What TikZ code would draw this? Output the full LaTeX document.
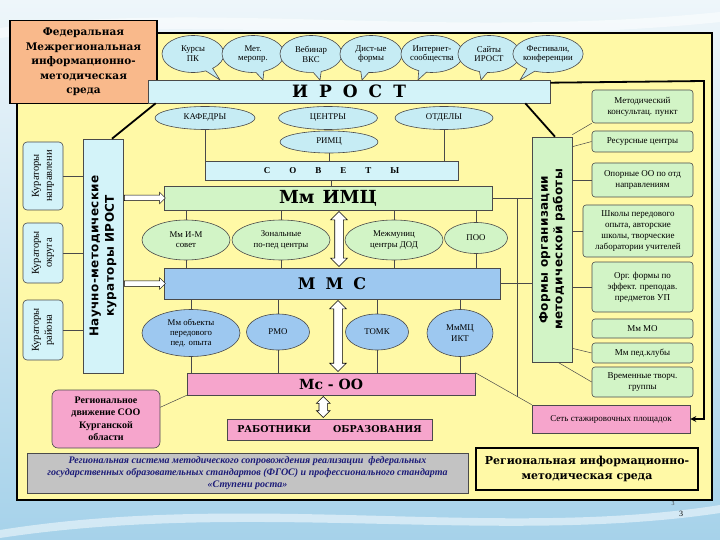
\documentclass[tikz,border=0pt]{standalone}
\usepackage{fontspec}
\setmainfont{Liberation Serif}
\newfontfamily\heavyfont{DejaVu Serif}
\newfontfamily\vertfont{DejaVu Sans}[LetterSpace=3]
\usetikzlibrary{arrows.meta,positioning,calc,shapes.geometric,shapes.callouts,shapes.arrows}
\definecolor{slidebgtop}{HTML}{EEF6FA}
\definecolor{slidebgbot}{HTML}{A6D2EA}
\definecolor{panelyellow}{HTML}{FFF9A6}
\definecolor{fedorange}{HTML}{F9B98B}
\definecolor{irostcyan}{HTML}{D3F3F9}
\definecolor{bubblecyan}{HTML}{C6ECF4}
\definecolor{imcgreen}{HTML}{D2F4C6}
\definecolor{mmsblue}{HTML}{9DC8F0}
\definecolor{oopink}{HTML}{F6A5CC}
\definecolor{framegrey}{HTML}{C3C3C3}
\definecolor{navytext}{HTML}{1C1C78}
\definecolor{edgegrey}{HTML}{4A4A4A}
\tikzset{
  bar/.style={draw=edgegrey, line width=0.6pt, inner sep=0pt, align=center},
  bubble/.style={ellipse callout, draw=edgegrey, fill=bubblecyan, line width=0.6pt, inner sep=0pt, minimum width=62, minimum height=37, align=center, font=\fontsize{8.8}{9.8}\selectfont},
  oval/.style={ellipse, draw=edgegrey, line width=0.6pt, inner sep=0pt, align=center, font=\fontsize{8.8}{10.3}\selectfont},
  kurbox/.style={draw=edgegrey, fill=irostcyan, rounded corners=4pt, line width=0.6pt, minimum width=40, inner sep=0pt},
  formbox/.style={draw=edgegrey, fill=imcgreen, rounded corners=3pt, line width=0.6pt, inner sep=0pt, align=center, font=\fontsize{9}{11}\selectfont},
  link/.style={draw=edgegrey, line width=0.5pt},
  boldlink/.style={draw=black, line width=1.8pt},
  twoway/.style={double arrow, draw=black, fill=white, line width=0.6pt, inner sep=4pt, double arrow head extend=4pt, rotate=90},
  oneway/.style={single arrow, draw=black, fill=white, line width=0.5pt, inner sep=2.5pt, single arrow head extend=3pt},
  heavy/.style={font=\heavyfont\bfseries\fontsize{#1}{#1}\selectfont}
}

\begin{document}
\begin{tikzpicture}[x=1pt,y=-1pt]
  \useasboundingbox (0,0) rectangle (720,540);
  \shade[top color=slidebgtop, bottom color=slidebgbot] (0,0) rectangle (720,540);
  \fill[white, opacity=0.5] (0,28) .. controls (200,0) and (450,40) .. (720,12) -- (720,22) .. controls (450,50) and (200,14) .. (0,38) -- cycle;
  \fill[white, opacity=0.5] (0,530) .. controls (250,490) and (500,540) .. (720,505) -- (720,513) .. controls (500,546) and (250,500) .. (0,538) -- cycle;
  \draw[line width=1.6pt, fill=panelyellow] (17,33) rectangle (712,500);

  \node[draw=black, line width=1.2pt, fill=fedorange, minimum width=147, minimum height=83, inner sep=0pt, align=center,
        font=\heavyfont\bfseries\fontsize{10.5}{14.5}\selectfont] (fed) at (83.5,62)
        {Федеральная\\Межрегиональная\\информационно-\\методическая\\среда};

  % bubbles over IROST
  \node[bubble, callout absolute pointer={(220,80)}] (kpk) at (193,54) {Курсы\\ПК};
  \node[bubble, callout absolute pointer={(263,80)}] (met) at (253,54) {Мет.\\меропр.};
  \node[bubble, callout absolute pointer={(320,80)}] (veb) at (311,54) {Вебинар\\ВКС};
  \node[bubble, callout absolute pointer={(362,80)}] (dist) at (371,54) {Дист-ые\\формы};
  \node[bubble, callout absolute pointer={(418,80)}] (inet) at (432,54) {Интернет-\\сообщества};
  \node[bubble, callout absolute pointer={(481,80)}] (sait) at (489,54) {Сайты\\ИРОСТ};
  \node[bubble, callout absolute pointer={(520,80)}] (fest) at (548,54) {Фестивали,\\конференции};

  \node[bar, fill=irostcyan, minimum width=402, minimum height=23, heavy=17] (irost) at (349,91.5)
        {И\hspace{11pt}Р\hspace{11pt}О\hspace{11pt}С\hspace{11pt}Т};

  \node[oval, fill=bubblecyan, minimum width=100, minimum height=23] (kaf) at (205,118) {КАФЕДРЫ};
  \node[oval, fill=bubblecyan, minimum width=99, minimum height=23] (cen) at (328,118) {ЦЕНТРЫ};
  \node[oval, fill=bubblecyan, minimum width=98, minimum height=23] (otd) at (444,118) {ОТДЕЛЫ};
  \node[oval, fill=bubblecyan, minimum width=98, minimum height=22] (rimc) at (329,142) {РИМЦ};

  \node[bar, fill=irostcyan, minimum width=253, minimum height=19, font=\bfseries\fontsize{9}{9}\selectfont] (sov) at (331.5,170.5)
        {С\hspace{19pt}О\hspace{19pt}В\hspace{19pt}Е\hspace{19pt}Т\hspace{19pt}Ы};
  \node[bar, fill=imcgreen, minimum width=328, minimum height=24, heavy=18] (mmimc) at (328,198) {Мм\hspace{8pt}ИМЦ};

  \node[oval, fill=imcgreen, minimum width=88, minimum height=40] (imsov) at (186,240) {Мм И-М\\совет};
  \node[oval, fill=imcgreen, minimum width=98, minimum height=40] (zon) at (281,240) {Зональные\\по-пед центры};
  \node[oval, fill=imcgreen, minimum width=98, minimum height=40] (mezh) at (394,240) {Межмуниц\\центры ДОД};
  \node[oval, fill=imcgreen, minimum width=63, minimum height=31] (poo) at (476,238) {ПОО};

  \node[bar, fill=mmsblue, minimum width=336, minimum height=31, heavy=16] (mms) at (332,283.5) {М\hspace{10pt}М\hspace{10pt}С};

  \node[oval, fill=mmsblue, minimum width=98, minimum height=47] (obj) at (191,333) {Мм объекты\\передового\\пед. опыта};
  \node[oval, fill=mmsblue, minimum width=63, minimum height=36] (rmo) at (278,332) {РМО};
  \node[oval, fill=mmsblue, minimum width=63, minimum height=36] (tomk) at (377,332) {ТОМК};
  \node[oval, fill=mmsblue, minimum width=66, minimum height=47] (ikt) at (460,333) {МмМЦ\\ИКТ};

  \node[bar, fill=oopink, minimum width=288, minimum height=22, heavy=14] (mcoo) at (331,384) {Мс - ОО};
  \node[bar, fill=oopink, minimum width=205, minimum height=21, heavy=9.5] (rab) at (329.5,429.5) {РАБОТНИКИ\hspace{22pt}ОБРАЗОВАНИЯ};

  \node[twoway, minimum height=55] (imcmms) at ($(mmimc.south)!0.5!(mms.north)+(9,0)$) {};
  \node[twoway, minimum height=71] (mmsoo) at ($(mms.south)!0.5!(mcoo.north)+(6.5,0)$) {};
  \node[twoway, minimum height=21, double arrow head extend=2.5pt] (oorab) at ($(mcoo.south)!0.5!(rab.north)+(-7,0)$) {};

  % curators
  \node[bar, fill=irostcyan, minimum width=40, minimum height=234] (naucno) at (103,256) {};
  \node[rotate=90, align=center, font=\vertfont\bfseries\fontsize{12}{15.5}\selectfont] (naucnot) at (naucno.center) {Научно-методические\\кураторы ИРОСТ};
  \node[kurbox, minimum height=68] (kn) at (43,176) {};
  \node[kurbox, minimum height=60] (ko) at (43,253) {};
  \node[kurbox, minimum height=60] (kr) at (43,330) {};
  \node[rotate=90, align=center, font=\fontsize{10.5}{13}\selectfont] (knt) at (kn.center) {Кураторы\\направлени};
  \node[rotate=90, align=center, font=\fontsize{10.5}{13}\selectfont] (kot) at (ko.center) {Кураторы\\округа};
  \node[rotate=90, align=center, font=\fontsize{10.5}{13}\selectfont] (krt) at (kr.center) {Кураторы\\района};
  \foreach \k in {kn,ko,kr} \draw[link] (\k.east) -- (\k.east -| naucno.west);
  \node[oneway, minimum height=41] (toimc) at ($(naucno.east |- mmimc.west)!0.5!(mmimc.west)$) {};
  \node[oneway, minimum height=41] (tomms) at ($(naucno.east |- mms.west)!0.5!(mms.west)$) {};

  % forms of work
  \node[bar, fill=imcgreen, minimum width=40, minimum height=225] (forms) at (552,249.5) {};
  \node[rotate=90, align=center, font=\vertfont\bfseries\fontsize{12}{14.5}\selectfont] (formst) at (forms.center) {Формы организации\\методической работы};
  \node[formbox, minimum width=101, minimum height=33] (mk) at (642.5,106.5) {Методический\\консультац. пункт};
  \node[formbox, minimum width=101, minimum height=21] (rc) at (642.5,141.5) {Ресурсные центры};
  \node[formbox, minimum width=101, minimum height=34] (opo) at (642.5,180) {Опорные ОО по отд\\направлениям};
  \node[formbox, minimum width=110, minimum height=52] (shk) at (638,231) {Школы передового\\опыта, авторские\\школы, творческие\\лаборатории учителей};
  \node[formbox, minimum width=101, minimum height=50] (org) at (642.5,287) {Орг. формы по\\эффект. преподав.\\предметов УП};
  \node[formbox, minimum width=101, minimum height=19] (mo) at (642.5,328.5) {Мм МО};
  \node[formbox, minimum width=101, minimum height=20] (pk) at (642.5,353) {Мм пед.клубы};
  \node[formbox, minimum width=101, minimum height=30] (vtg) at (642.5,382) {Временные творч.\\группы};
  \node[bar, fill=oopink, minimum width=158, minimum height=28, font=\fontsize{9}{10}\selectfont] (seti) at (611,419) {Сеть стажировочных площадок};

  \node[draw=edgegrey, line width=0.6pt, fill=oopink, rounded corners=6pt, minimum width=108, minimum height=58, inner sep=0pt, align=center,
        font=\bfseries\fontsize{10}{12.5}\selectfont] (regd) at (106,419) {Региональное\\движение СОО\\Курганской\\области};
  \node[bar, fill=framegrey, minimum width=441, minimum height=40, text=navytext, font=\bfseries\itshape\fontsize{10}{12}\selectfont] (fgos) at (247.5,473)
        {Региональная система методического сопровождения реализации\ \ федеральных\\государственных образовательных стандартов (ФГОС) и профессионального стандарта\\«Ступени роста»};
  \node[draw=black, line width=2.5pt, fill=panelyellow, minimum width=222, minimum height=42, inner sep=0pt, align=center,
        font=\heavyfont\bfseries\fontsize{11}{15}\selectfont] (rims) at (587,469) {Региональная информационно-\\методическая среда};

  % links
  \foreach \o in {kaf,otd,rimc} \draw[link] (\o.south) -- (\o.south |- sov.north);
  \draw[link] (sov.south) -- (sov.south |- mmimc.north);
  \foreach \o in {imsov,zon,mezh,poo} {
    \draw[link] (\o.north) -- (\o.north |- mmimc.south);
    \draw[link] (\o.south) -- (\o.south |- mms.north);
  }
  \foreach \o in {obj,rmo,tomk,ikt} {
    \draw[link] (\o.north) -- (\o.north |- mms.south);
    \draw[link] (\o.south) -- (\o.south |- mcoo.north);
  }
  \draw[link] (mmimc.east) -- (mmimc.east -| forms.west);
  \draw[link] (mms.east) -- (mms.east -| forms.west);
  \draw[link] (mcoo.north east) -- (seti.north west);
  \coordinate (vjoin) at ($(mcoo.north east)!0.75!(seti.north west)$);
  \draw[link] (vjoin) -- (vjoin |- mmimc.east);
  \draw[link] ($(regd.north east)!0.3!(regd.south east)$) -- (mcoo.south west);
  \draw[link] ($(forms.north east)+(0,-2)$) -- (mk.south west);
  \draw[link] ($(forms.north east)+(0,10)$) -- (rc.west);
  \draw[link] (opo.west) -- (opo.west -| forms.east);
  \draw[link] (shk.west) -- (shk.west -| forms.east);
  \draw[link] (org.west) -- (org.west -| forms.east);
  \draw[link] ($(forms.south east)+(0,-14)$) -- (pk.west);
  \draw[link] ($(forms.south)+(6,0)$) -- (vtg.west);

  \draw[boldlink] ($(irost.south west)+(8,0)$) -- ($(naucno.north)+(9,0)$);
  \draw[boldlink] ($(irost.south east)+(-25,0)$) -- ($(forms.north)+(3,0)$);
  \coordinate (rtop) at (704,81);
  \draw[boldlink, -{Stealth[length=6pt,width=6pt]}] ($(irost.north east)+(0,3)$) -- (rtop) |- (seti.east);

  \node[font=\fontsize{6}{6}\selectfont, text=black!75] (pgs) at (673,504) {3};
  \node[font=\fontsize{8}{8}\selectfont] (pgn) at (681,514) {3};
\end{tikzpicture}
\end{document}
